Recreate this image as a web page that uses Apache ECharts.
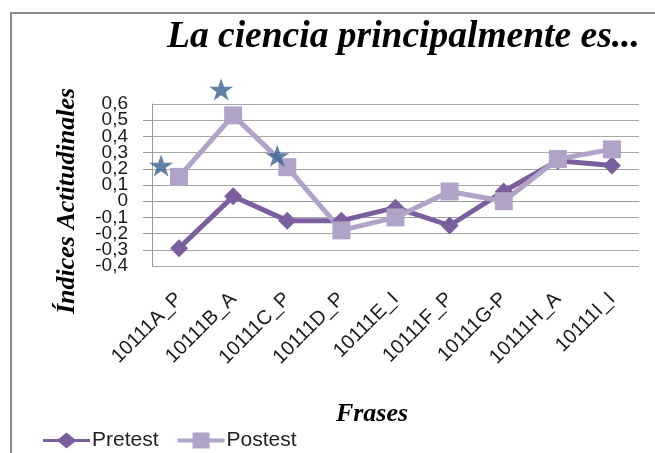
<!DOCTYPE html>
<html>
<head>
<meta charset="utf-8">
<script src="https://cdn.jsdelivr.net/npm/echarts@6/dist/echarts.min.js"></script>
<style>
  html, body { margin: 0; padding: 0; background: #fff; }
  #chart { width: 655px; height: 453px; }
</style>
</head>
<body>
<div id="chart"></div>
<script>
// data
var frases = ['10111A_P', '10111B_A', '10111C_P', '10111D_P', '10111E_I', '10111F_P', '10111G-P', '10111H_A', '10111I_I'];
var pretest = [-0.29, 0.03, -0.12, -0.12, -0.04, -0.15, 0.06, 0.25, 0.22];
var postest = [0.15, 0.53, 0.21, -0.18, -0.10, 0.06, 0.00, 0.26, 0.32];
// significance stars (first three phrases)
var starValues = [0.22, 0.69, 0.28];
var yMin = -0.4, yMax = 0.6;

var colPre = '#7b5e9d';
var colPost = '#b1a3c8';
var colStar = '#3a6391';
var starShift = [-18, -12, -10];

var chart = echarts.init(document.getElementById('chart'));

function fmt(v) {
    var s = (Math.round(v * 10) / 10).toFixed(1);
    if (s === '0.0' || s === '-0.0') return '0';
    return s.replace('.', ',');
}
// the labels overlap each other, echarts drops the end ones -> second axis only for min / max
function fmtEnds(v) {
    if (Math.abs(v - yMin) < 1e-6 || Math.abs(v - yMax) < 1e-6) return fmt(v);
    return '';
}

var starData = starValues.map(function (v, i) {
    return { value: [i, v], symbolOffset: [starShift[i], 0] };
});

var yLabel = { margin: 24, fontSize: 19, color: '#1a1a1a' };

// legend icons: thick line with marker in the middle (excel style)
var iconPre = 'path://M0,6.5 L15.5,6.5 L23.5,0 L31.5,6.5 L47,6.5 L47,9.5 L31.5,9.5 L23.5,16 L15.5,9.5 L0,9.5 Z';
var iconPost = 'path://M0,6 L15,6 L15,0 L32,0 L32,6 L47,6 L47,10 L32,10 L32,16 L15,16 L15,10 L0,10 Z';

var option = {
    animation: false,
    backgroundColor: '#fff',
    textStyle: { fontFamily: 'Liberation Sans' },
    grid: { left: 152, right: 16, top: 104, bottom: 187 },
    graphic: [
        {
            type: 'rect', silent: true, z: -1,
            shape: { x: 11, y: 13, width: 700, height: 500 },
            style: { fill: '#fff', stroke: '#8c8c8c', lineWidth: 2 }
        },
        {
            type: 'text', left: 167, top: 18,
            style: { text: 'La ciencia principalmente es...', fill: '#000',
                font: 'italic bold 37.5px "Liberation Serif"' }
        },
        {
            type: 'text', x: 67, y: 201, rotation: Math.PI / 2,
            style: { text: 'Índices Actitudinales', fill: '#000',
                font: 'italic bold 26px "Liberation Serif"', align: 'center', verticalAlign: 'middle' }
        },
        {
            type: 'text', x: 372, y: 414,
            style: { text: 'Frases', fill: '#000',
                font: 'italic bold 26px "Liberation Serif"', align: 'center', verticalAlign: 'middle' }
        }
    ],
    legend: {
        left: 38, top: 425,
        itemWidth: 47, itemHeight: 16, itemGap: 19,
        textStyle: { fontSize: 21, color: '#222', padding: [0, 0, 0, -3] },
        data: [
            { name: 'Pretest', icon: iconPre, itemStyle: { color: colPre } },
            { name: 'Postest', icon: iconPost, itemStyle: { color: colPost } }
        ]
    },
    xAxis: {
        type: 'category',
        data: frases,
        boundaryGap: true,
        axisLine: { lineStyle: { color: '#9a9a9a', width: 1 } },
        axisTick: { show: false },
        axisLabel: { rotate: 45, margin: 30, fontSize: 20, color: '#1a1a1a', interval: 0 }
    },
    yAxis: [
        {
            type: 'value',
            min: yMin, max: yMax, interval: 0.1,
            axisLine: { show: true, lineStyle: { color: '#9a9a9a', width: 1 } },
            axisTick: { show: true, inside: false, length: 9, lineStyle: { color: '#9a9a9a' } },
            splitLine: { lineStyle: { color: '#a6a6a6', width: 1 } },
            axisLabel: Object.assign({ formatter: fmt, showMinLabel: false, showMaxLabel: false }, yLabel)
        },
        {
            type: 'value', position: 'left',
            min: yMin, max: yMax, interval: 0.1,
            axisLine: { show: false }, axisTick: { show: false }, splitLine: { show: false },
            axisLabel: Object.assign({ formatter: fmtEnds, showMinLabel: true, showMaxLabel: true }, yLabel)
        }
    ],
    series: [
        {
            name: 'Pretest', type: 'line', data: pretest,
            symbol: 'diamond', symbolSize: 18,
            lineStyle: { color: colPre, width: 5 },
            itemStyle: { color: colPre }
        },
        {
            name: 'Postest', type: 'line', data: postest,
            symbol: 'rect', symbolSize: 18,
            lineStyle: { color: colPost, width: 5 },
            itemStyle: { color: colPost }
        },
        {
            name: 'sig', type: 'scatter', data: starData,
            symbol: 'path://M12,0 L14.9,8.6 L24,8.6 L16.6,14 L19.4,22.8 L12,17.4 L4.6,22.8 L7.4,14 L0,8.6 L9.1,8.6 Z',
            symbolSize: [24, 22],
            clip: false, z: 5,
            itemStyle: { color: colStar }
        }
    ]
};

chart.setOption(option);
</script>
</body>
</html>
